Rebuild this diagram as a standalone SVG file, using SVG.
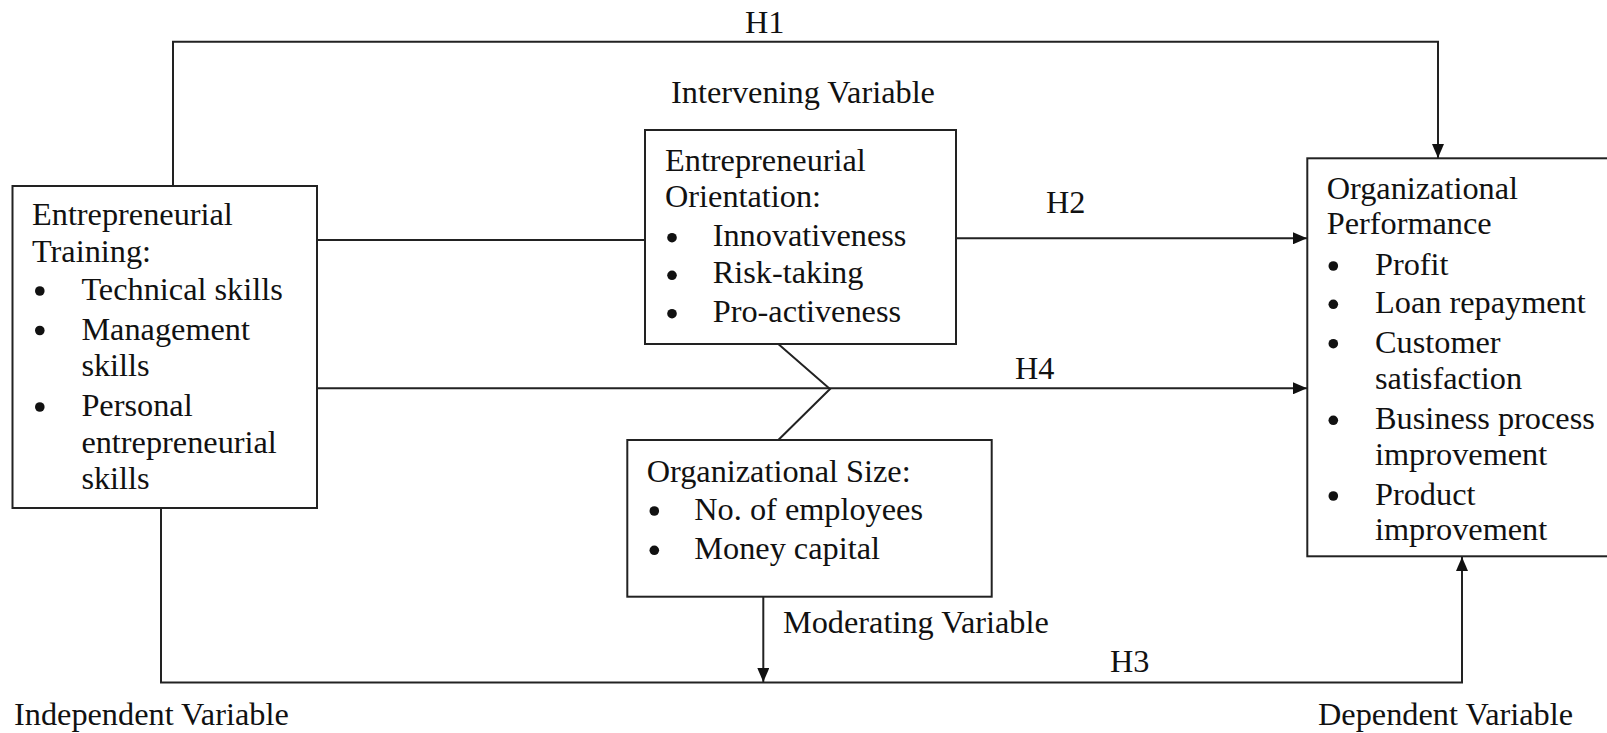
<svg xmlns="http://www.w3.org/2000/svg" width="1607" height="733" viewBox="0 0 1607 733">
  <style>
    text { font-family: "Liberation Serif", "Times New Roman", serif; font-size: 32.3px; fill: #111; }
    .box { fill: #fff; stroke: #222; stroke-width: 2; }
    .wire { fill: none; stroke: #222; stroke-width: 2; }
    .bul { fill: #111; }
  </style>
  <defs>
    <marker id="arrow" viewBox="0 0 14 12" refX="14" refY="6" markerWidth="14" markerHeight="12" markerUnits="userSpaceOnUse" orient="auto">
      <path d="M0,0 L14,6 L0,12 Z" fill="#111"/>
    </marker>
  </defs>

  <rect width="1607" height="733" fill="#fff"/>

  <!-- connectors -->
  <g id="connectors">
    <!-- H1: training over the top to performance -->
    <path class="wire" d="M173,186 V41.7 H1438 V158" marker-end="url(#arrow)"/>
    <!-- training to orientation -->
    <path class="wire" d="M317,240 H645"/>
    <!-- H2: orientation to performance -->
    <path class="wire" d="M956,238.3 H1307" marker-end="url(#arrow)"/>
    <!-- H4: training to performance, joined by orientation and size -->
    <path class="wire" d="M317,388.3 H1307" marker-end="url(#arrow)"/>
    <path class="wire" d="M778.3,344 L830,389 L778.3,440"/>
    <!-- H3: training under the bottom to performance -->
    <path class="wire" d="M161,508 V682.5 H1462 V557" marker-end="url(#arrow)"/>
    <!-- moderating arrow -->
    <path class="wire" d="M763.3,597 V682" marker-end="url(#arrow)"/>
  </g>

  <!-- labels -->
  <g id="labels">
    <text x="745" y="33">H1</text>
    <text x="671" y="102.5">Intervening Variable</text>
    <text x="1046" y="213">H2</text>
    <text x="1015" y="379">H4</text>
    <text x="783" y="633">Moderating Variable</text>
    <text x="1110" y="672">H3</text>
    <text x="14" y="725">Independent Variable</text>
    <text x="1318" y="725">Dependent Variable</text>
  </g>

  <!-- independent variable -->
  <g id="training">
    <rect class="box" x="12.5" y="186" width="304.5" height="322"/>
    <text x="32" y="225">Entrepreneurial</text>
    <text x="32" y="262">Training:</text>
    <circle class="bul" cx="39.8" cy="291" r="4.8"/>
    <text x="81.4" y="300">Technical skills</text>
    <circle class="bul" cx="39.8" cy="330.5" r="4.8"/>
    <text x="81.4" y="339.5">Management</text>
    <text x="81.4" y="376">skills</text>
    <circle class="bul" cx="39.8" cy="407" r="4.8"/>
    <text x="81.4" y="416">Personal</text>
    <text x="81.4" y="452.5">entrepreneurial</text>
    <text x="81.4" y="489">skills</text>
  </g>

  <!-- intervening variable -->
  <g id="orientation">
    <rect class="box" x="645" y="130" width="311" height="214"/>
    <text x="665" y="170.7">Entrepreneurial</text>
    <text x="665" y="206.7">Orientation:</text>
    <circle class="bul" cx="672" cy="237.7" r="4.8"/>
    <text x="712.7" y="245.7">Innovativeness</text>
    <circle class="bul" cx="672" cy="275.3" r="4.8"/>
    <text x="712.7" y="283.3">Risk-taking</text>
    <circle class="bul" cx="672" cy="313.7" r="4.8"/>
    <text x="712.7" y="321.7">Pro-activeness</text>
  </g>

  <!-- moderating variable -->
  <g id="size">
    <rect class="box" x="627.3" y="440" width="364.4" height="156.7"/>
    <text x="646.7" y="481.7">Organizational Size:</text>
    <circle class="bul" cx="654.3" cy="511" r="4.8"/>
    <text x="694.3" y="520">No. of employees</text>
    <circle class="bul" cx="654.3" cy="550.3" r="4.8"/>
    <text x="694.3" y="559.3">Money capital</text>
  </g>

  <!-- dependent variable -->
  <g id="performance">
    <rect class="box" x="1307.3" y="158.3" width="320" height="398"/>
    <text x="1326.7" y="199.3">Organizational</text>
    <text x="1326.7" y="234">Performance</text>
    <circle class="bul" cx="1333.3" cy="266" r="4.8"/>
    <text x="1375" y="275">Profit</text>
    <circle class="bul" cx="1333.3" cy="304.3" r="4.8"/>
    <text x="1375" y="313.3">Loan repayment</text>
    <circle class="bul" cx="1333.3" cy="343.7" r="4.8"/>
    <text x="1375" y="352.7">Customer</text>
    <text x="1375" y="389.3">satisfaction</text>
    <circle class="bul" cx="1333.3" cy="420.3" r="4.8"/>
    <text x="1375" y="429.3">Business process</text>
    <text x="1375" y="465">improvement</text>
    <circle class="bul" cx="1333.3" cy="496" r="4.8"/>
    <text x="1375" y="505">Product</text>
    <text x="1375" y="540">improvement</text>
  </g>
</svg>
